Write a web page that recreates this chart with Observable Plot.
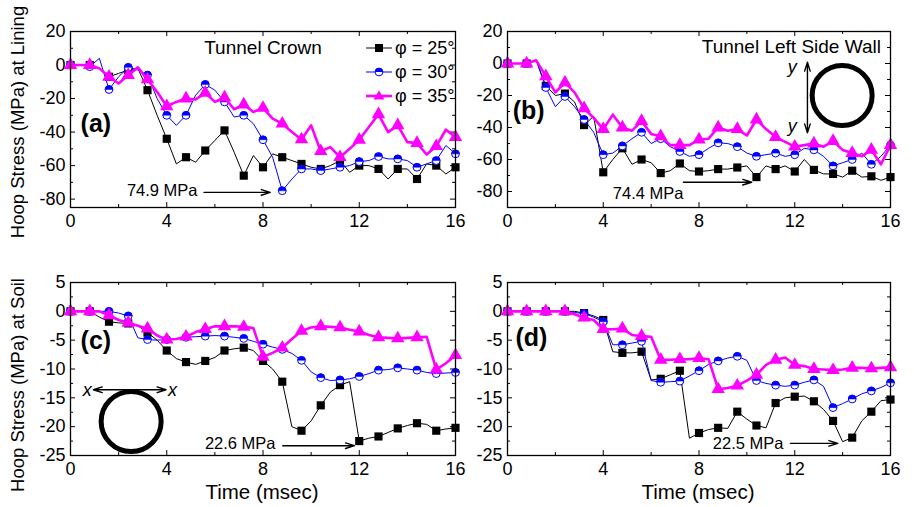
<!DOCTYPE html>
<html><head><meta charset="utf-8">
<script src="https://cdn.jsdelivr.net/npm/d3@7"></script>
<script src="https://cdn.jsdelivr.net/npm/@observablehq/plot@0.6"></script>
<style>
body{margin:0;background:#fff;}
#fig{position:relative;width:914px;height:507px;font-family:"Liberation Sans",Arial,sans-serif;color:#000;overflow:hidden;background:#fff}
.panel{position:absolute}
.panel svg{background:transparent;overflow:visible}
.ytitle{position:absolute;font-size:18.5px;white-space:nowrap;transform:translate(-50%,-50%) rotate(-90deg);}
.xtitle{position:absolute;font-size:20.5px;white-space:nowrap;transform:translate(-50%,-50%);}
</style></head><body><div id="fig"></div>
<script>
const FONT = '"Liberation Sans", Arial, sans-serif';

// time axis (msec), points every 0.4; markers on every other point
const time = [0,0.4,0.8,1.2,1.6,2.0,2.4,2.8,3.2,3.6,4.0,4.4,4.8,5.2,5.6,6.0,6.4,6.8,7.2,7.6,8.0,8.4,8.8,9.2,9.6,10.0,10.4,10.8,11.2,11.6,12.0,12.4,12.8,13.2,13.6,14.0,14.4,14.8,15.2,15.6,16.0];

const seriesNames = ["\u03c6 = 25\u00b0", "\u03c6 = 30\u00b0", "\u03c6 = 35\u00b0"];

// (a) Tunnel crown, lining hoop stress (MPa)
const a25 = [0,0,0,-2,-7,-5,-3,-2,-15,-30,-44,-59,-55,-58,-51,-45,-39,-52,-66,-54,-61,-53,-55,-57,-59,-61,-62,-60,-57,-64,-60,-60,-62,-68,-62,-62,-68,-59,-60,-65,-61];
const a30 = [0,0,-1,4,-14.6,-7,-1.4,-3,-6,-20,-30,-36,-30,-18,-11.6,-15,-22,-31,-30,-35,-44.6,-55,-75,-68,-62,-62,-63,-62,-61,-60,-57.6,-57,-54.6,-56,-56,-57,-61,-59,-57,-48,-53];
const a35 = [0,0,0,-2,-7,-11,-6,-1.4,-8.6,-16,-24.6,-22,-20,-20.6,-16.6,-22,-19.4,-26.4,-23.6,-28,-25.6,-32,-35,-40,-44.4,-36,-51.4,-49,-55,-50,-44.6,-37,-29.4,-40,-36,-46,-46.6,-53.4,-48.4,-38.6,-43];

// (b) Tunnel left side wall, lining hoop stress (MPa)
const b25 = [0,0,0,2,-14,-20,-18.8,-24,-38.5,-33,-68,-60,-53,-63,-60,-62,-68.5,-67,-62.5,-67,-67.5,-67,-66,-66,-65,-64,-71,-64,-66,-64,-67.5,-60,-66.5,-69,-69,-71,-67,-71,-70.5,-73,-71];
const b30 = [0,0,0,2,-15,-27,-20.6,-27,-35,-43,-57,-56,-51.5,-47,-43,-50,-47,-52,-55,-58,-57,-53,-49.6,-50,-52,-56,-58,-57,-56,-58,-57,-53,-54,-58,-64,-62,-60,-56,-63,-58,-51];
const b35 = [0,0,0,2,-8,-18,-12,-18,-28,-34,-41,-32,-40,-42,-36,-44,-45.5,-51,-51,-51,-47.5,-47,-40,-42,-41,-45,-35,-41,-46,-49,-52,-51,-50,-52,-48.5,-54,-56,-58,-54,-63,-51];

// (c) crown, soil hoop stress (MPa)
const c25 = [0,0,0,-1,-1.8,-2,-2.1,-2.5,-3.7,-5,-6.8,-8.2,-8.8,-9.2,-8.6,-8,-6.8,-6.5,-6.3,-6.8,-8.6,-10,-12.2,-20,-20.7,-19,-16.3,-14,-12.8,-12.2,-22.5,-22,-21.7,-21,-20.3,-19.8,-19.4,-19.6,-20.7,-20.4,-20.2];
const c30 = [0,0,0,0,0,-0.3,-0.8,-4.6,-4.9,-5,-4.9,-4.8,-4.5,-4.4,-4.3,-4.2,-4.3,-4.5,-4.7,-5.2,-5.7,-6.2,-6.6,-7.3,-8.5,-10.5,-11.5,-12,-11.9,-11.7,-11.3,-10.8,-10.2,-10.1,-9.8,-10,-10.2,-10.6,-10.8,-10.7,-10.6];
const c35 = [0,0,0,0,-0.7,-1.5,-2,-2.5,-3,-4.2,-4.9,-4.8,-4.4,-3.6,-3.1,-2.6,-2.6,-2.6,-2.7,-2.9,-7.9,-7.2,-6.3,-4.8,-3.4,-2.8,-2.6,-2.7,-2.8,-3.2,-3.5,-4.1,-4.5,-4.6,-4.7,-4.6,-4.5,-4.4,-10.1,-9,-7.6];

// (d) side wall, soil hoop stress (MPa)
const d25 = [0,0,0,0,0,0,0,0,-0.3,-0.8,-1.5,-7,-7.2,-7.2,-7,-11.9,-11.7,-11,-10.3,-22,-21.1,-20.5,-20.2,-20.3,-17.4,-18.7,-19.8,-20.2,-15.9,-15,-14.8,-14.7,-15.6,-17,-19,-22.6,-21.9,-19,-17.4,-15.5,-15.3];
const d30 = [0,0,0,0,0,0,0,-0.2,-0.4,-1,-1.8,-5.8,-5.8,-5.5,-5.2,-12,-12.3,-12.2,-12.1,-11.2,-10.3,-9.2,-8.6,-8.1,-7.8,-8.5,-12,-12.5,-12.8,-13,-12.8,-12.3,-11.9,-13,-16.7,-16,-15.2,-14.3,-13.8,-13.2,-12.4];
const d35 = [0,0,0,0,0,0,0,-0.5,-1.1,-1.5,-3.1,-3.1,-3,-4.1,-4.3,-4.4,-8.4,-8.4,-8.3,-8.3,-8.1,-8.3,-13.5,-13.3,-12.9,-12,-11,-9.3,-8.4,-8,-9.3,-9.5,-10,-10.1,-10.2,-10.1,-9.8,-9.8,-9.9,-9.8,-9.7];

// ticks
const xMajor = [0,4,8,12,16];
const xMinor = [2,6,10,14];
const yMajorLining = [20,0,-20,-40,-60,-80];
const yMinorLining = [10,-10,-30,-50,-70];
const yMajorSoil = [5,0,-5,-10,-15,-20,-25];
const yMinorSoil = [2.5,-2.5,-7.5,-12.5,-17.5,-22.5];

// annotations (data coordinates)
const panelLabels = ["(a)","(b)","(c)","(d)"];
const panelTitles = ["Tunnel Crown","Tunnel Left Side Wall"];
const peakLabels = ["74.9 MPa","74.4 MPa","22.6 MPa","22.5 MPa"];

const COL = {c25:"#000000", c30:"#0000ff", c35:"#ff00ff"};
const halfTop = {draw(ctx, size){ const r = Math.sqrt(size/Math.PI); ctx.moveTo(r,0); ctx.arc(0,0,r,0,Math.PI,true); ctx.closePath(); }};

function panel(cfg){
  const {W,H,ml,mr,mt,mb,yDomain,yMajor,yMinor,s25,s30,s35,extra} = cfg;
  const fw = W-ml-mr, fh = H-mt-mb;
  const rows = vals => time.map((t,i)=>({t, v: vals[i], i}));
  const R25 = rows(s25), R30 = rows(s30), R35 = rows(s35);
  const even = d => d.i % 2 === 0;
  return Plot.plot({
    width: W, height: H, marginLeft: ml, marginRight: mr, marginTop: mt, marginBottom: mb,
    x: {domain:[0,16]}, y: {domain: yDomain},
    style: {background:"transparent", overflow:"visible", fontFamily: FONT, fontSize:"18px", color:"black"},
    marks: [
      Plot.axisX({ticks: xMajor, tickSize:0, tickPadding:7, tickFormat: d=>String(d), label:null}),
      Plot.axisY({ticks: yMajor, tickSize:0, tickPadding:5, tickFormat: d=>String(d), label:null}),
      Plot.tickX(xMajor, {x: d=>d, insetTop: fh-5, stroke:"black"}),
      Plot.tickX(xMinor, {x: d=>d, insetTop: fh-3, stroke:"black"}),
      Plot.tickX(xMajor, {x: d=>d, insetBottom: fh-5, stroke:"black"}),
      Plot.tickX(xMinor, {x: d=>d, insetBottom: fh-3, stroke:"black"}),
      Plot.tickY(yMajor, {y: d=>d, insetRight: fw-5, stroke:"black"}),
      Plot.tickY(yMinor, {y: d=>d, insetRight: fw-3, stroke:"black"}),
      Plot.tickY(yMajor, {y: d=>d, insetLeft: fw-5, stroke:"black"}),
      Plot.tickY(yMinor, {y: d=>d, insetLeft: fw-3, stroke:"black"}),
      ...extra,
      Plot.line(R25, {x:"t", y:"v", stroke:COL.c25, strokeWidth:1}),
      Plot.dot(R25.filter(even), {x:"t", y:"v", symbol:"square", r:4.6, fill:COL.c25}),
      Plot.line(R30, {x:"t", y:"v", stroke:COL.c30, strokeWidth:1}),
      Plot.dot(R30.filter(even), {x:"t", y:"v", r:3.9, fill:"white", stroke:COL.c30, strokeWidth:1}),
      Plot.dot(R30.filter(even), {x:"t", y:"v", r:3.9, symbol: halfTop, fill:COL.c30, stroke:COL.c30, strokeWidth:0.5}),
      Plot.line(R35, {x:"t", y:"v", stroke:COL.c35, strokeWidth:2.6}),
      Plot.dot(R35.filter(even), {x:"t", y:"v", symbol:"triangle", r:5, fill:COL.c35}),
      Plot.frame({stroke:"black", strokeWidth:1.3})
    ]
  });
}

const arrowStyle = {stroke:"black", strokeWidth:1.4, headLength:10, headAngle:35};

const extraA = [
  Plot.text([panelTitles[0]], {x:8, y:10.3, text:d=>d, fontSize:19, lineAnchor:"middle"}),
  Plot.text([panelLabels[0]], {x:0.42, y:-35, text:d=>d, fontSize:25, fontWeight:"bold", textAnchor:"start", lineAnchor:"middle"}),
  Plot.text([peakLabels[0]], {x:5.28, y:-75, text:d=>d, fontSize:16.5, textAnchor:"end", lineAnchor:"middle"}),
  Plot.arrow([{x1:5.55, x2:8.3, y:-76}], {x1:"x1", x2:"x2", y1:"y", y2:"y", ...arrowStyle})
];
const extraB = [
  Plot.text([panelTitles[1]], {x:15.6, y:10.6, text:d=>d, fontSize:19, textAnchor:"end", lineAnchor:"middle"}),
  Plot.text([panelLabels[1]], {x:0.22, y:-29.5, text:d=>d, fontSize:25, fontWeight:"bold", textAnchor:"start", lineAnchor:"middle"}),
  Plot.text([peakLabels[1]], {x:7.35, y:-81.3, text:d=>d, fontSize:16.5, textAnchor:"end", lineAnchor:"middle"}),
  Plot.arrow([{x1:7.35, x2:10.2, y:-74.2}], {x1:"x1", x2:"x2", y1:"y", y2:"y", ...arrowStyle}),
  Plot.dot([{x:13.98, y:-20}], {x:"x", y:"y", r:30, stroke:"black", strokeWidth:5, fill:"none"}),
  Plot.arrow([{x:12.53, y1:-21.2, y2:0.8},{x:12.53, y1:-21.2, y2:-43.3}], {x1:"x", x2:"x", y1:"y1", y2:"y2", ...arrowStyle}),
  Plot.text([{x:11.9, y:-2.2},{x:11.9, y:-39.4}], {x:"x", y:"y", text:()=>"y", fontSize:18, fontStyle:"italic", lineAnchor:"middle"})
];
const extraC = [
  Plot.text([panelLabels[2]], {x:0.42, y:-5.1, text:d=>d, fontSize:25, fontWeight:"bold", textAnchor:"start", lineAnchor:"middle"}),
  Plot.text([peakLabels[2]], {x:8.52, y:-22.9, text:d=>d, fontSize:16.5, textAnchor:"end", lineAnchor:"middle"}),
  Plot.arrow([{x1:8.82, x2:11.8, y:-23.3}], {x1:"x1", x2:"x2", y1:"y", y2:"y", ...arrowStyle}),
  Plot.dot([{x:2.52, y:-19.1}], {x:"x", y:"y", r:30, stroke:"black", strokeWidth:5, fill:"none"}),
  Plot.arrow([{y:-13.6, x1:2.45, x2:0.95},{y:-13.6, x1:2.45, x2:3.97}], {x1:"x1", x2:"x2", y1:"y", y2:"y", ...arrowStyle}),
  Plot.text([{x:0.7, y:-13.6},{x:4.24, y:-13.6}], {x:"x", y:"y", text:()=>"x", fontSize:18, fontStyle:"italic", lineAnchor:"middle"})
];
const extraD = [
  Plot.text([panelLabels[3]], {x:0.33, y:-4.7, text:d=>d, fontSize:25, fontWeight:"bold", textAnchor:"start", lineAnchor:"middle"}),
  Plot.text([peakLabels[3]], {x:11.53, y:-22.9, text:d=>d, fontSize:16.5, textAnchor:"end", lineAnchor:"middle"}),
  Plot.arrow([{x1:11.82, x2:13.8, y:-22.9}], {x1:"x1", x2:"x2", y1:"y", y2:"y", ...arrowStyle})
];

const fig = document.getElementById("fig");
function place(el, left, top){ const d = document.createElement("div"); d.className="panel"; d.style.left=left+"px"; d.style.top=top+"px"; d.appendChild(el); fig.appendChild(d); return d; }

place(panel({W:460,H:240,ml:70,mr:5,mt:31,mb:33,yDomain:[-85,20],yMajor:yMajorLining,yMinor:yMinorLining,s25:a25,s30:a30,s35:a35,extra:extraA}),0,0);
place(panel({W:460,H:240,ml:57,mr:20,mt:31,mb:33,yDomain:[-90,20],yMajor:yMajorLining,yMinor:yMinorLining,s25:b25,s30:b30,s35:b35,extra:extraB}),450,0);
place(panel({W:460,H:257,ml:70,mr:5,mt:32,mb:52,yDomain:[-25,5],yMajor:yMajorSoil,yMinor:yMinorSoil,s25:c25,s30:c30,s35:c35,extra:extraC}),0,250);
place(panel({W:460,H:257,ml:57,mr:20,mt:32,mb:52,yDomain:[-25,5],yMajor:yMajorSoil,yMinor:yMinorSoil,s25:d25,s30:d30,s35:d35,extra:extraD}),450,250);

// axis titles
function addText(cls, txt, x, y){ const d=document.createElement("div"); d.className=cls; d.textContent=txt; d.style.left=x+"px"; d.style.top=y+"px"; fig.appendChild(d); }
addText("ytitle","Hoop Stress (MPa) at Lining",18,122);
addText("ytitle","Hoop Stress (MPa) at Soil",18,385);
addText("xtitle","Time (msec)",262,492);
addText("xtitle","Time (msec)",698,492);

// legend
const legendSymbols = [
  '<line x1="0" y1="7" x2="26" y2="7" stroke="#000" stroke-width="1"/><rect x="9" y="3" width="8" height="8" fill="#000"/>',
  '<line x1="0" y1="7" x2="26" y2="7" stroke="#0000ff" stroke-width="1"/><circle cx="13" cy="7" r="3.9" fill="#fff" stroke="#0000ff"/><path d="M16.9,7A3.9,3.9 0 0 0 9.1,7Z" fill="#0000ff"/>',
  '<line x1="0" y1="7" x2="26" y2="7" stroke="#ff00ff" stroke-width="2.6"/><path d="M13,1.5L18.5,10.5L7.5,10.5Z" fill="#ff00ff"/>'
];
const lg = document.createElement("div");
lg.style.cssText = "position:absolute;left:366px;top:36px;font-size:18px;line-height:24px";
seriesNames.forEach((name,i)=>{
  const row = document.createElement("div");
  row.style.cssText = "display:flex;align-items:center;height:24px;white-space:nowrap";
  row.innerHTML = '<svg width="26" height="14" style="overflow:visible">'+legendSymbols[i]+'</svg><span style="margin-left:3px">'+name+'</span>';
  lg.appendChild(row);
});
fig.appendChild(lg);
</script>
</body></html>
